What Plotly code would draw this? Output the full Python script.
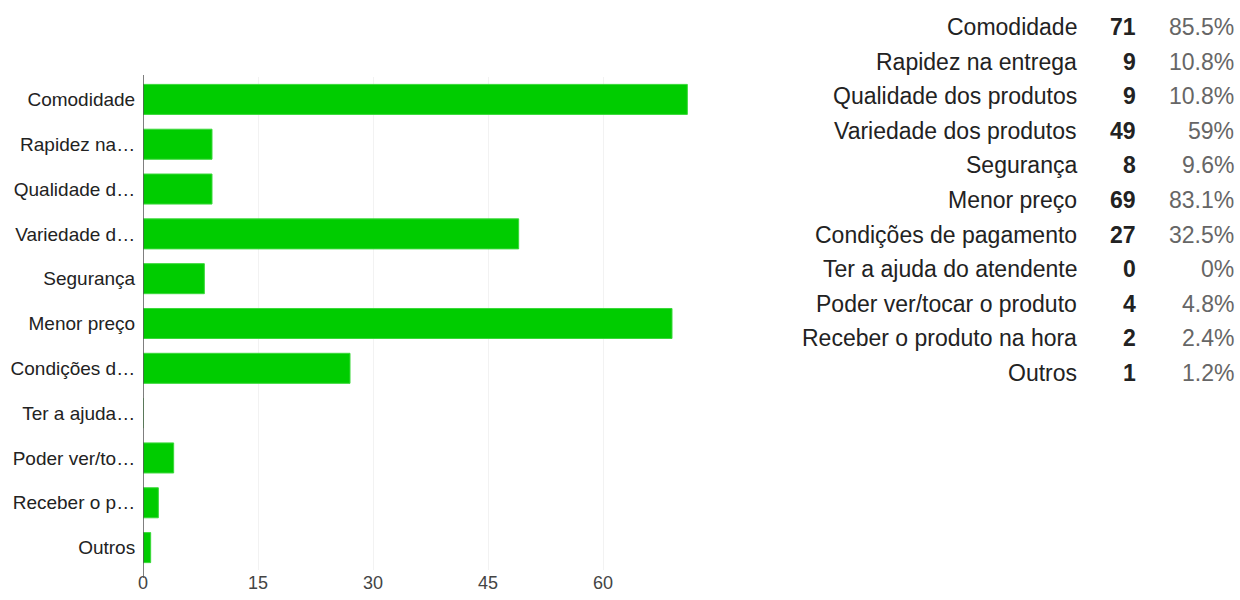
import plotly.graph_objects as go

categories = ["Comodidade", "Rapidez na entrega", "Qualidade dos produtos",
              "Variedade dos produtos", "Segurança", "Menor preço",
              "Condições de pagamento", "Ter a ajuda do atendente",
              "Poder ver/tocar o produto", "Receber o produto na hora", "Outros"]
short_labels = ["Comodidade", "Rapidez na…", "Qualidade d…", "Variedade d…",
                "Segurança", "Menor preço", "Condições d…", "Ter a ajuda…",
                "Poder ver/to…", "Receber o p…", "Outros"]
counts = [71, 9, 9, 49, 8, 69, 27, 0, 4, 2, 1]
percents = ["85.5%", "10.8%", "10.8%", "59%", "9.6%", "83.1%", "32.5%",
            "0%", "4.8%", "2.4%", "1.2%"]
x_ticks = [0, 15, 30, 45, 60]

W, H = 1240, 600
L, R, T, B = 143, 695, 77, 570
FONT = "Liberation Sans, Arial, sans-serif"


def px_x(px):
    return (px - L) / (R - L)


def px_y(py):
    return (B - py) / (B - T)


fig = go.Figure()
fig.add_trace(go.Bar(
    x=counts, y=categories, orientation="h",
    marker=dict(color="#00cc00", line=dict(color="#3ad83a", width=1)),
    hoverinfo="x+y", showlegend=False,
))

fig.update_layout(
    width=W, height=H, autosize=False,
    margin=dict(l=L, r=W - R, t=T, b=H - B, pad=0),
    paper_bgcolor="white", plot_bgcolor="white",
    bargap=0.33,
    font=dict(family=FONT, color="#222222"),
    xaxis=dict(range=[0, 72], tickvals=x_ticks, ticktext=[str(v) for v in x_ticks],
               automargin=False,
               showgrid=True, gridcolor="#f2f2f2", gridwidth=1,
               zeroline=False, showline=False,
               ticks="", ticklen=0,
               tickfont=dict(size=18, color="#444444", family=FONT)),
    yaxis=dict(categoryorder="array", categoryarray=categories, autorange="reversed",
               tickvals=categories, ticktext=short_labels, automargin=False,
               showgrid=False, zeroline=False, showline=False,
               ticks="outside", ticklen=3, tickcolor="rgba(0,0,0,0)",
               tickfont=dict(size=19, color="#222222", family=FONT)),
)

# vertical axis line
fig.add_shape(type="line", xref="x", yref="paper", x0=0, x1=0,
              y0=px_y(578), y1=px_y(75), line=dict(color="#555555", width=1.5))

# summary table on the right
row_top, row_step = 27, 34.6
for i, (cat, n, p) in enumerate(zip(categories, counts, percents)):
    yy = px_y(row_top + i * row_step)
    fig.add_annotation(x=px_x(1079), y=yy, xref="paper", yref="paper",
                       text=cat, showarrow=False, xanchor="right", yanchor="middle",
                       font=dict(size=23, color="#222222", family=FONT))
    fig.add_annotation(x=px_x(1138), y=yy, xref="paper", yref="paper",
                       text="<b>%d</b>" % n, showarrow=False, xanchor="right", yanchor="middle",
                       font=dict(size=23, color="#222222", family=FONT))
    fig.add_annotation(x=px_x(1236), y=yy, xref="paper", yref="paper",
                       text=p, showarrow=False, xanchor="right", yanchor="middle",
                       font=dict(size=23, color="#666666", family=FONT))

fig.write_html("out.html")
